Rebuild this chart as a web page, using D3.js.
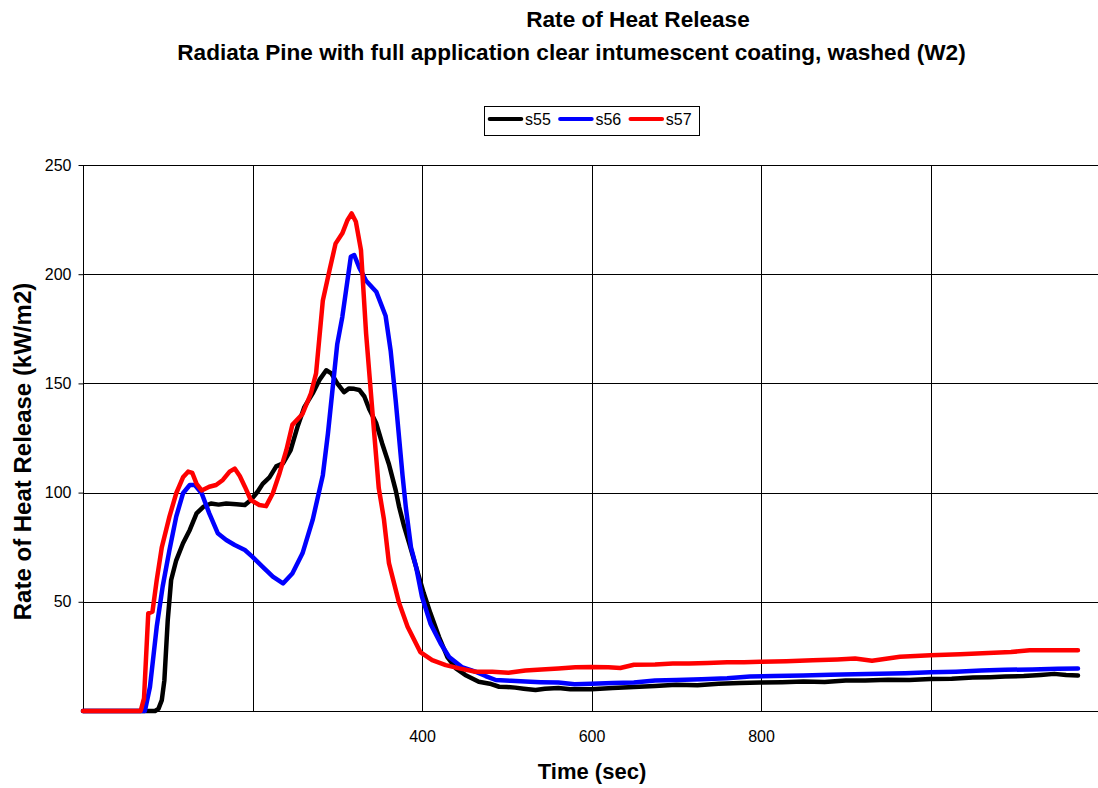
<!DOCTYPE html>
<html>
<head>
<meta charset="utf-8">
<script src="https://cdn.jsdelivr.net/npm/d3@7"></script>
<style>
  body { margin: 0; background: #fff; }
  text { font-family: "Liberation Sans", Arial, sans-serif; }
  .grid line { stroke: #000; stroke-width: 1; }
  .line { fill: none; stroke-width: 4.5; stroke-linejoin: round; stroke-linecap: round; }
</style>
</head>
<body>
<div class="canva"></div>
<script>
// data: time (sec) and rate of heat release (kW/m2)
const s55Time = [0, 85, 89, 93, 96, 100, 104, 110, 118, 126, 134, 142, 151, 160, 169, 181, 191, 198, 206, 212, 220, 228, 236, 245, 253, 261, 271, 279, 287, 293, 300, 308, 314, 320, 326, 332, 338, 346, 353, 361, 369, 373, 379, 385, 393, 402, 410, 420, 430, 440, 451, 467, 480, 491, 500, 510, 520, 534, 545, 561, 575, 600, 625, 650, 675, 700, 725, 750, 775, 799, 825, 850, 875, 900, 923, 950, 975, 1000, 1025, 1050, 1070, 1088, 1110, 1130, 1146, 1160, 1174];
const s55 = [0, 0, 1, 5, 14, 41.6, 60, 69, 76.8, 82.9, 90.5, 93.5, 95, 94.5, 95, 94.7, 94.3, 96.6, 100.4, 104, 107, 112, 113.4, 119.5, 130, 139, 145.4, 151.6, 156, 154.6, 150, 146, 147.7, 147.5, 147, 144, 138, 131.7, 122.5, 113, 101, 93.5, 84.4, 76.7, 66, 54, 44.7, 34, 24.7, 19.5, 16.5, 13.4, 12.5, 11.1, 11, 10.7, 10.2, 9.6, 10.2, 10.5, 10, 10, 10.5, 11, 11.5, 12, 11.8, 12.5, 12.8, 13, 13.2, 13.5, 13.3, 14, 14, 14.3, 14.2, 14.6, 14.8, 15.3, 15.5, 15.8, 16, 16.5, 17, 16.5, 16.2];

const s56Time = [0, 73, 79, 87, 94, 102, 110, 118, 126, 132, 140, 149, 159, 169, 179, 191, 200, 212, 224, 236, 247, 259, 271, 283, 289, 300, 306, 316, 320, 326, 334, 346, 357, 363, 369, 377, 381, 387, 393, 400, 410, 422, 432, 447, 463, 475, 487, 505, 522, 540, 561, 580, 600, 625, 650, 675, 700, 730, 760, 787, 815, 850, 882, 910, 940, 970, 1000, 1030, 1060, 1088, 1120, 1150, 1174];
const s56 = [0, 0, 11, 38.6, 57, 73.7, 89, 99.7, 103.5, 103.5, 99.7, 90.5, 81.4, 78.3, 76, 73.7, 70.6, 66, 61.5, 58.4, 63, 72.2, 87.5, 108, 127, 168, 180.5, 208, 208.8, 203, 197, 192, 181, 165, 142, 108, 93, 75, 66, 52.3, 40, 30.9, 24.7, 20.1, 18, 16, 14.2, 13.8, 13.5, 13.2, 13, 12.3, 12.5, 12.8, 13, 14, 14.2, 14.5, 15, 15.8, 16, 16.3, 16.6, 16.8, 17, 17.3, 17.7, 18, 18.5, 18.9, 19, 19.3, 19.5];

const s57Time = [0, 68, 72, 77, 82, 87, 93, 102, 110, 118, 124, 129, 134, 140, 149, 157, 165, 173, 179, 185, 191, 198, 208, 216, 224, 232, 240, 247, 259, 269, 275, 283, 291, 298, 306, 312, 317, 322, 328, 334, 342, 349, 355, 361, 373, 383, 398, 412, 428, 444, 463, 483, 502, 522, 541, 561, 581, 600, 620, 634, 650, 675, 696, 715, 737, 760, 780, 799, 830, 861, 890, 911, 931, 964, 1000, 1035, 1068, 1095, 1117, 1150, 1174];
const s57 = [0, 0, 5.8, 44.7, 45.5, 60, 75, 89, 99.7, 107, 109.6, 109, 104, 101, 102.7, 103.5, 105.8, 109.6, 111, 107.6, 102.7, 96.6, 94.3, 93.8, 99.7, 109, 119.5, 131, 136, 145.5, 154.6, 188, 202, 214, 218.7, 224.7, 227.8, 224, 211, 173, 134.7, 102, 88, 67.7, 49.4, 38.6, 27, 23.3, 21, 19.5, 18, 18, 17.5, 18.5, 19, 19.5, 20, 20.2, 20, 19.7, 21.2, 21.3, 21.7, 21.8, 22, 22.3, 22.3, 22.5, 22.8, 23.2, 23.6, 24, 23, 24.8, 25.5, 26, 26.6, 27, 27.8, 27.8, 27.8];

const seriesNames = ["s55", "s56", "s57"];
const seriesColors = ["#000000", "#0000ff", "#ff0000"];
const xGrid = [200, 400, 600, 800, 1000];
const xTickLabels = [400, 600, 800];
const yTicks = [50, 100, 150, 200, 250];

const series = [
  {name: seriesNames[0], color: seriesColors[0], time: s55Time, values: s55},
  {name: seriesNames[1], color: seriesColors[1], time: s56Time, values: s56},
  {name: seriesNames[2], color: seriesColors[2], time: s57Time, values: s57}
];

const svg = d3.select(".canva").append("svg")
            .attr("width", 1098)
            .attr("height", 788);

const margin = {top: 165, right: -2, bottom: 77, left: 83};
const width = 1098 - margin.left - margin.right;
const height = 788 - margin.top - margin.bottom;

const x = d3.scaleLinear().domain([0, 1200]).range([0, width]);
const y = d3.scaleLinear().domain([0, 250]).range([height, 0]);

const graph = svg.append("g")
                 .attr("transform", `translate(${margin.left}, ${margin.top})`);

// gridlines
const grid = graph.append("g").attr("class", "grid");
grid.selectAll(".hgrid")
    .data([0].concat(yTicks))
    .enter().append("line")
    .attr("x1", 0).attr("x2", width)
    .attr("y1", d => Math.round(y(d)) + 0.5).attr("y2", d => Math.round(y(d)) + 0.5);
grid.selectAll(".vgrid")
    .data([0].concat(xGrid))
    .enter().append("line")
    .attr("y1", 0).attr("y2", height)
    .attr("x1", d => Math.round(x(d)) + 0.5).attr("x2", d => Math.round(x(d)) + 0.5);

// axes
const yAxis = d3.axisLeft(y).tickValues(yTicks).tickSize(5).tickPadding(7);
graph.append("g")
     .attr("transform", "translate(0.5, 0)")
     .call(yAxis)
     .call(g => g.select(".domain").remove())
     .call(g => g.selectAll("text").style("font-size", "16px").attr("fill", "#000"))
     .call(g => g.selectAll("line").attr("stroke", "#000"));

const xAxis = d3.axisBottom(x).tickValues(xTickLabels).tickSize(0).tickPadding(20).tickFormat(d3.format("d"));
graph.append("g")
     .attr("transform", `translate(0, ${height})`)
     .call(xAxis)
     .call(g => g.select(".domain").remove())
     .call(g => g.selectAll("text").style("font-size", "16px").attr("fill", "#000"));

// lines
const line = d3.line()
               .x(d => x(d[0]))
               .y(d => y(d[1]));

graph.selectAll(".line")
     .data(series)
     .enter().append("path")
     .attr("class", "line")
     .attr("stroke", d => d.color)
     .attr("d", d => line(d.time.map((t, i) => [t, d.values[i]])));

// titles
svg.append("text")
   .attr("x", 638).attr("y", 26.5)
   .attr("text-anchor", "middle")
   .style("font-size", "22.6px").style("font-weight", "bold")
   .text("Rate of Heat Release");
svg.append("text")
   .attr("x", 571.5).attr("y", 60)
   .attr("text-anchor", "middle")
   .style("font-size", "22.6px").style("font-weight", "bold")
   .text("Radiata Pine with full application clear intumescent coating, washed (W2)");

svg.append("text")
   .attr("transform", "translate(31, 451.5) rotate(-90)")
   .attr("text-anchor", "middle")
   .style("font-size", "24px").style("font-weight", "bold")
   .text("Rate of Heat Release (kW/m2)");

svg.append("text")
   .attr("x", 592).attr("y", 779)
   .attr("text-anchor", "middle")
   .style("font-size", "22px").style("font-weight", "bold")
   .text("Time (sec)");

// legend
const legend = svg.append("g").attr("transform", "translate(484, 106)");
legend.append("rect")
      .attr("x", 0.5).attr("y", 0.5)
      .attr("width", 215).attr("height", 29)
      .attr("fill", "#fff").attr("stroke", "#000");
const item = legend.selectAll(".item")
      .data(series)
      .enter().append("g")
      .attr("transform", (d, i) => `translate(${i * 70.4}, 0)`);
item.append("line")
    .attr("x1", 5.7).attr("x2", 37.3)
    .attr("y1", 13).attr("y2", 13)
    .attr("stroke", d => d.color)
    .attr("stroke-width", 4)
    .attr("stroke-linecap", "round");
item.append("text")
    .attr("x", 41).attr("y", 18.5)
    .style("font-size", "16px")
    .text(d => d.name);
</script>
</body>
</html>
